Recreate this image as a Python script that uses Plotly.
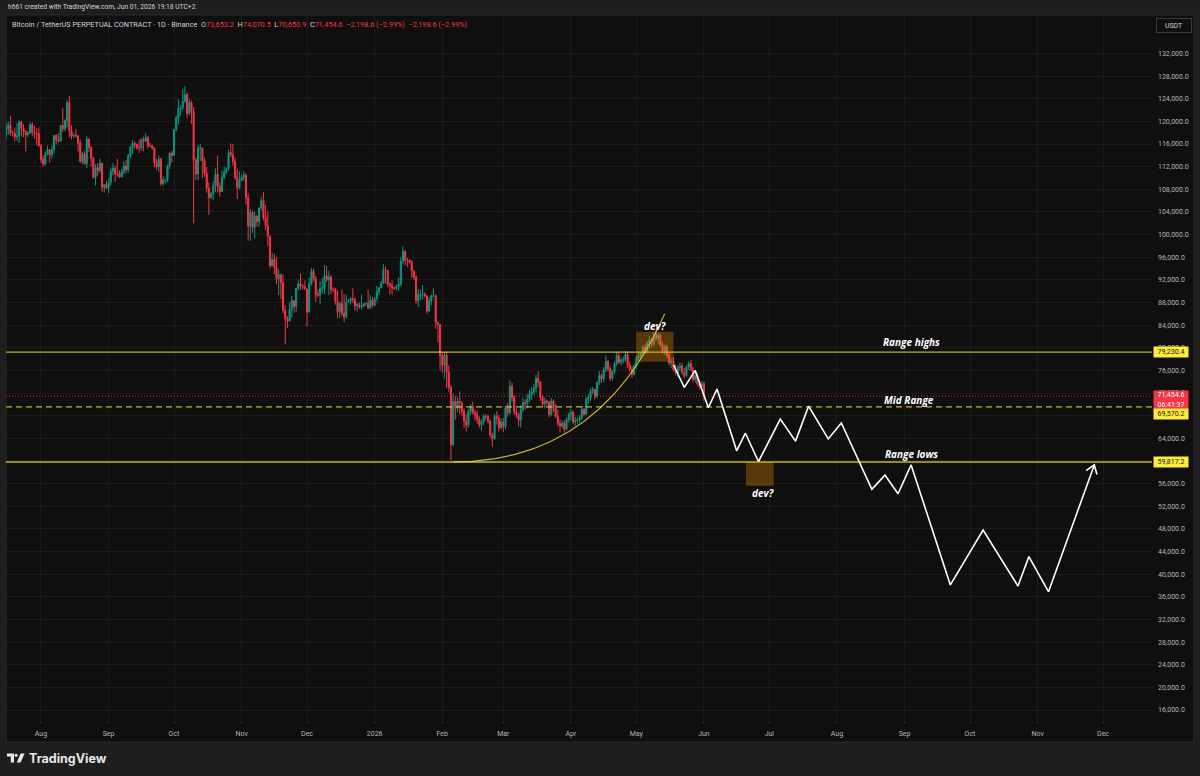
import numpy as np
import pandas as pd
import plotly.graph_objects as go

# ---------------- candle data (thousand USDT), BTCUSDT.P 1D ----------------
first_open = 117.7
closes = [
    # Jul 16-31 2025
    118.7, 119.3, 117.9, 117.9, 117.3, 117.4, 119.9, 118.7, 118.3, 117.6, 117.9, 119.4, 118.0, 117.9, 117.8, 115.7,
    # Aug
    113.3, 112.5, 114.2, 115.0, 114.1, 115.0, 117.5, 116.7, 116.5, 119.3, 118.7, 120.2, 123.3, 118.3, 117.4, 117.5,
    117.4, 116.2, 112.9, 114.3, 112.5, 116.9, 115.4, 113.5, 110.1, 111.8, 111.3, 112.6, 108.4, 108.8, 108.2,
    # Sep
    109.2, 111.2, 111.7, 110.7, 110.7, 110.2, 111.1, 112.1, 111.5, 113.9, 115.5, 116.1, 115.9, 115.3, 115.3, 116.8,
    116.5, 117.1, 115.7, 115.7, 115.3, 112.7, 112.0, 113.3, 109.0, 109.6, 109.7, 112.1, 114.4, 114.0,
    # Oct
    118.6, 120.6, 122.3, 122.4, 123.5, 124.7, 121.4, 123.3, 121.7, 113.2, 110.7, 115.2, 115.3, 113.1, 110.8, 108.2,
    106.5, 107.2, 108.7, 110.6, 108.5, 107.6, 110.1, 111.0, 111.6, 114.5, 114.1, 112.9, 110.1, 108.3, 109.6,
    # Nov
    110.1, 110.5, 106.5, 101.5, 103.9, 101.3, 103.3, 102.3, 104.7, 106.0, 103.0, 101.6, 99.7, 94.5, 95.6, 94.2,
    92.2, 92.9, 91.5, 86.6, 85.1, 84.7, 86.8, 88.3, 87.3, 90.5, 91.3, 90.9, 90.8, 90.4,
    # Dec
    86.3, 91.3, 93.5, 92.1, 89.4, 89.3, 90.4, 90.6, 92.7, 92.0, 92.5, 90.3, 90.3, 88.2, 86.4, 87.8,
    86.1, 85.5, 88.1, 88.3, 88.6, 88.5, 87.4, 87.6, 87.2, 87.3, 87.8, 87.8, 87.1, 88.4, 87.5,
    # Jan 2026
    88.7, 89.9, 90.6, 91.4, 93.8, 93.7, 91.3, 91.0, 90.6, 90.5, 90.8, 91.2, 95.3, 97.0, 95.5, 95.5,
    95.1, 93.6, 92.5, 88.3, 89.4, 89.5, 89.5, 89.2, 86.5, 88.3, 89.2, 89.2, 84.5, 84.1, 78.6,
    # Feb
    76.9, 78.7, 75.7, 73.0, 62.9, 70.5, 69.3, 70.6, 70.3, 68.8, 67.0, 66.3, 68.8, 69.6, 68.5, 68.2,
    67.4, 66.4, 66.9, 67.9, 67.8, 67.0, 64.6, 63.9, 67.9, 67.5, 65.9, 66.9,
    # Mar
    66.1, 69.4, 68.5, 73.2, 71.2, 68.6, 68.2, 67.2, 69.1, 70.3, 70.2, 70.9, 71.8, 72.2, 72.9, 74.6,
    73.9, 71.2, 70.1, 70.6, 70.4, 68.2, 70.6, 69.3, 67.9, 66.6, 66.2, 66.7, 65.6, 67.3, 68.2,
    # Apr
    68.6, 66.9, 67.1, 67.2, 67.6, 69.1, 68.3, 70.9, 71.2, 72.4, 72.6, 71.4, 73.8, 75.1, 74.5, 76.1,
    77.6, 76.3, 74.6, 75.8, 77.2, 78.6, 77.5, 77.8, 77.9, 78.8, 76.9, 76.2, 75.3, 76.8,
    # May
    78.2, 78.5, 79.0, 80.1, 79.3, 80.8, 81.4, 80.6, 82.4, 81.6, 82.2, 80.6, 79.4, 80.2, 78.6, 77.3,
    77.6, 76.2, 75.6, 76.5, 76.8, 75.6, 75.1, 76.6, 77.2, 76.1, 74.4, 75.1, 73.6, 73.1, 73.6532,
    # Jun 1
    71.4546,
]
highs = [
    119.9, 120.0, 120.9, 118.4, 118.9, 119.7, 120.2, 120.1, 119.5, 118.4, 118.3, 119.8, 119.8, 119.2, 118.8, 118.9,
    116.0, 114.0, 114.7, 115.7, 115.1, 115.7, 117.6, 117.7, 117.9, 119.3, 122.3, 120.3, 123.7, 124.5, 119.3, 117.9,
    118.6, 117.6, 116.8, 114.6, 114.8, 117.4, 117.0, 115.6, 113.7, 112.4, 112.6, 113.4, 112.7, 108.9, 109.5,
    109.9, 111.8, 112.6, 112.2, 113.4, 111.3, 111.6, 112.9, 113.2, 114.3, 115.5, 116.7, 116.4, 116.1, 116.8, 117.0,
    117.3, 117.9, 117.4, 116.2, 115.9, 115.4, 113.4, 114.0, 113.6, 110.3, 109.8, 112.4, 114.5, 114.8,
    118.6, 121.0, 123.9, 122.9, 125.7, 126.2, 125.1, 124.0, 123.7, 122.5, 113.6, 115.8, 116.0, 115.4, 113.6, 111.9,
    109.2, 107.5, 109.4, 111.7, 114.0, 109.2, 111.3, 112.0, 111.9, 115.0, 116.1, 116.0, 113.6, 111.6, 111.2,
    110.6, 111.2, 110.8, 107.3, 104.5, 104.2, 104.0, 103.4, 104.8, 106.7, 107.5, 105.3, 104.1, 99.8, 96.8, 96.6,
    96.0, 93.8, 93.1, 93.0, 87.5, 85.6, 88.0, 89.2, 88.4, 90.6, 91.9, 93.1, 91.2, 91.9,
    90.4, 92.3, 94.1, 94.0, 92.7, 90.3, 91.8, 92.3, 94.6, 94.5, 93.6, 92.8, 90.7, 90.6, 90.1, 88.1,
    90.3, 89.5, 89.3, 88.6, 89.0, 90.5, 88.9, 87.9, 88.0, 89.4, 87.9, 88.0, 90.3, 89.3, 89.0,
    88.9, 90.9, 90.7, 91.8, 94.8, 94.4, 93.7, 91.5, 91.9, 90.8, 91.2, 92.4, 96.0, 97.9, 97.2, 95.9,
    95.6, 95.5, 93.6, 92.8, 90.4, 90.3, 91.1, 89.8, 89.2, 88.9, 89.4, 90.5, 89.4, 84.6, 84.2,
    79.3, 79.2, 79.3, 76.9, 73.3, 71.9, 71.5, 71.2, 72.3, 70.5, 69.3, 68.2, 69.2, 70.1, 70.5, 69.0,
    68.9, 67.9, 67.3, 68.3, 68.3, 68.1, 67.3, 65.0, 68.3, 68.8, 68.1, 67.6,
    67.6, 69.8, 70.2, 74.3, 73.8, 71.6, 69.3, 68.6, 69.8, 71.2, 70.9, 71.8, 72.6, 73.1, 73.6, 75.2,
    75.8, 74.1, 71.6, 71.2, 70.9, 70.6, 71.1, 70.9, 70.1, 69.1, 67.4, 67.1, 67.2, 67.7, 68.6,
    69.2, 68.9, 67.8, 67.6, 68.1, 69.7, 69.4, 71.3, 71.8, 72.9, 73.1, 72.8, 74.1, 75.9, 75.4, 76.6,
    78.6, 77.9, 76.8, 76.1, 77.6, 79.3, 79.1, 78.2, 78.5, 79.4, 79.3, 77.6, 76.8, 77.2,
    78.6, 79.1, 79.3, 80.4, 80.6, 81.2, 82.1, 81.8, 82.8, 83.4, 82.7, 82.5, 81.1, 80.6, 80.5, 79.3,
    78.1, 78.4, 77.1, 76.9, 77.4, 77.3, 76.4, 76.9, 77.6, 77.8, 76.6, 75.7, 75.6, 74.4, 74.2,
    74.0705,
]
lows = [
    116.8, 117.6, 117.4, 117.3, 116.5, 116.6, 116.2, 117.3, 117.2, 114.7, 117.2, 117.8, 117.4, 116.9, 115.8, 115.5,
    112.7, 112.0, 112.2, 114.0, 112.7, 113.4, 114.3, 115.9, 116.3, 116.5, 118.1, 118.2, 118.9, 117.2, 116.8, 117.1,
    117.2, 114.7, 112.7, 112.4, 112.4, 111.7, 114.6, 112.0, 109.9, 108.7, 110.4, 110.9, 107.5, 107.4, 108.1,
    107.3, 108.6, 110.5, 109.3, 110.2, 110.0, 110.0, 110.6, 110.8, 110.9, 113.5, 114.3, 115.2, 115.0, 114.4, 114.8,
    114.7, 116.4, 115.2, 115.5, 115.0, 111.9, 111.5, 111.1, 108.6, 108.7, 109.0, 109.2, 111.6, 112.7,
    113.9, 118.2, 119.4, 121.0, 122.0, 123.3, 120.6, 121.1, 119.6, 102.0, 109.7, 109.6, 113.0, 110.0, 110.2, 107.4,
    103.5, 106.3, 106.1, 107.5, 107.4, 106.7, 107.5, 109.8, 110.7, 111.3, 113.7, 112.2, 109.7, 106.3, 108.0,
    109.4, 109.5, 105.3, 98.9, 98.9, 100.3, 99.3, 101.4, 101.3, 104.3, 102.5, 100.8, 98.0, 94.0, 94.5, 93.0,
    91.2, 89.3, 88.6, 86.1, 80.6, 83.5, 84.7, 85.3, 86.2, 86.3, 90.1, 90.2, 90.3, 90.3,
    83.8, 86.2, 91.0, 91.7, 88.1, 88.9, 87.7, 89.6, 89.5, 91.6, 89.3, 89.5, 89.8, 87.6, 85.2, 85.3,
    85.6, 84.5, 85.1, 87.9, 87.6, 87.9, 86.6, 86.4, 86.9, 86.8, 87.2, 87.4, 86.8, 86.8, 87.1,
    87.3, 88.3, 89.3, 90.5, 91.3, 91.3, 90.7, 89.4, 89.4, 90.2, 90.1, 90.0, 90.9, 94.8, 94.6, 94.3,
    94.9, 92.3, 91.9, 87.8, 87.2, 88.4, 88.5, 88.9, 86.0, 86.3, 87.5, 88.9, 83.3, 81.0, 76.0,
    75.6, 74.6, 72.9, 72.1, 60.1, 62.6, 67.3, 68.6, 68.3, 67.9, 65.8, 65.2, 65.9, 68.1, 68.2, 67.1,
    66.6, 65.9, 65.4, 66.3, 67.3, 66.6, 64.1, 62.5, 63.7, 66.4, 65.2, 65.6,
    65.1, 65.6, 67.8, 68.2, 70.4, 68.1, 67.6, 66.1, 65.9, 68.6, 69.1, 69.3, 70.4, 70.8, 71.6, 72.1,
    73.1, 70.6, 69.4, 69.3, 69.8, 67.7, 67.9, 68.6, 67.6, 66.1, 65.1, 65.8, 64.9, 65.4, 66.8,
    67.1, 66.4, 66.2, 66.6, 66.7, 67.2, 67.9, 68.1, 70.1, 70.6, 71.8, 70.9, 71.2, 73.4, 73.8, 73.9,
    75.7, 75.8, 74.1, 74.2, 75.3, 76.8, 77.1, 76.9, 77.2, 77.5, 76.4, 75.8, 74.6, 75.1,
    76.3, 77.6, 77.9, 78.6, 78.9, 79.1, 79.8, 80.1, 80.3, 81.2, 80.6, 80.1, 78.9, 78.7, 78.2, 76.9,
    76.4, 75.8, 75.1, 74.8, 75.9, 75.2, 74.6, 74.8, 76.1, 75.9, 73.9, 73.8, 73.2, 72.6, 72.9,
    70.6509,
]
assert len(closes) == len(highs) == len(lows)
dates = pd.date_range("2025-07-16", periods=len(closes), freq="D")
opens = [first_open] + closes[:-1]          # each daily bar opens at the prior close

# ---------------- levels & drawings ----------------
range_high = 79.2304
mid_range = 69.5702
range_low = 59.8172
last_price = 71.4546

proj_dates = ["2026-05-18", "2026-05-23", "2026-05-28", "2026-06-03", "2026-06-07", "2026-06-16",
              "2026-06-20", "2026-06-26", "2026-07-06", "2026-07-13", "2026-07-19", "2026-07-28",
              "2026-08-03", "2026-08-17", "2026-08-23", "2026-08-29", "2026-09-04", "2026-09-22",
              "2026-10-07", "2026-10-23", "2026-10-28", "2026-11-06", "2026-11-27"]
proj_prices = [77.0, 73.0, 76.0, 69.4, 72.7, 61.8, 64.9, 59.9, 67.4, 63.5, 69.7, 63.9,
               66.7, 55.0, 57.5, 54.2, 59.3, 38.1, 47.8, 37.9, 43.1, 36.9, 59.3]

arc_dates = ["2026-02-05 20:00", "2026-04-14", "2026-05-14"]
arc_prices = [59.8172, 59.8172, 86.0]

dev_boxes = [  # (start, end, low, high)
    ("2026-05-01", "2026-05-18", 77.54, 82.84),
    ("2026-06-20 06:00", "2026-07-03", 55.6, 59.82),
]

month_ticks = pd.date_range("2025-08-01", "2026-12-01", freq="MS")
month_labels = ["Aug", "Sep", "Oct", "Nov", "Dec", "2026", "Feb", "Mar", "Apr", "May",
                "Jun", "Jul", "Aug", "Sep", "Oct", "Nov", "Dec"]
price_ticks = list(range(16, 133, 4))

# ---------------- geometry ----------------
W, H = 1200, 776
PX_L, PX_R, PX_T, PX_B = 6, 1152, 15, 720
X0, X1 = pd.Timestamp("2025-07-15 23:00"), pd.Timestamp("2026-12-23 11:00")
Y0, Y1 = 14.233, 138.793


def xp(px):
    return (px - PX_L) / (PX_R - PX_L)


def yp(py):
    return (PX_B - py) / (PX_B - PX_T)


def to_px(t, p):
    t = pd.Timestamp(t)
    return (PX_L + (t - X0) / (X1 - X0) * (PX_R - PX_L),
            PX_B - (p - Y0) / (Y1 - Y0) * (PX_B - PX_T))


def from_px(x, y):
    return (X0 + (x - PX_L) / (PX_R - PX_L) * (X1 - X0),
            Y0 + (PX_B - y) / (PX_B - PX_T) * (Y1 - Y0))


UP, DN = "#089981", "#f23645"
YEL = "rgba(255,235,59,0.75)"
YEL_BOX = "#ffeb3b"
FONT = "Roboto"
TXT = "#b2b5be"

fig = go.Figure()
fig.add_trace(go.Candlestick(
    x=dates, open=opens, high=highs, low=lows, close=closes,
    increasing=dict(line=dict(color=UP, width=1), fillcolor=UP),
    decreasing=dict(line=dict(color=DN, width=1), fillcolor=DN),
    whiskerwidth=0, hoverinfo="skip", showlegend=False))

# arc (quadratic bezier through drawing anchors)
tt = np.linspace(0, 1, 120)
ad = [(pd.Timestamp(s) - X0) / pd.Timedelta(days=1) for s in arc_dates]
axd = (1 - tt) ** 2 * ad[0] + 2 * tt * (1 - tt) * ad[1] + tt ** 2 * ad[2]
ayd = (1 - tt) ** 2 * arc_prices[0] + 2 * tt * (1 - tt) * arc_prices[1] + tt ** 2 * arc_prices[2]
fig.add_trace(go.Scatter(x=[X0 + pd.Timedelta(days=float(v)) for v in axd], y=ayd, mode="lines",
                         line=dict(color="rgba(230,205,60,0.85)", width=1.2),
                         hoverinfo="skip", showlegend=False))

# projection path
fig.add_trace(go.Scatter(x=pd.to_datetime(proj_dates), y=proj_prices, mode="lines",
                         line=dict(color="#ffffff", width=1.6), hoverinfo="skip", showlegend=False))

# open arrow head at end of path
tx, ty = to_px(proj_dates[-1], proj_prices[-1])
bx, by = to_px(proj_dates[-2], proj_prices[-2])
vx, vy = bx - tx, by - ty
n = np.hypot(vx, vy)
vx, vy = vx / n, vy / n
arm = 10
pts = []
for ang in (np.radians(35), -np.radians(35)):
    rx = vx * np.cos(ang) - vy * np.sin(ang)
    ry = vx * np.sin(ang) + vy * np.cos(ang)
    pts.append(from_px(tx + arm * rx, ty + arm * ry))
head_x = [pts[0][0], pd.Timestamp(proj_dates[-1]), pts[1][0]]
head_y = [pts[0][1], proj_prices[-1], pts[1][1]]
fig.add_trace(go.Scatter(x=head_x, y=head_y, mode="lines", line=dict(color="#ffffff", width=1.6),
                         hoverinfo="skip", showlegend=False))

shapes = []
# chart panel
shapes.append(dict(type="rect", xref="paper", yref="paper", x0=xp(6), x1=xp(1194), y0=yp(742), y1=yp(15),
                   fillcolor="#0f0f0f", line=dict(color="#2b2b2b", width=1), layer="below"))
for lvl in (range_high, range_low):
    shapes.append(dict(type="line", xref="paper", x0=0, x1=1, yref="y", y0=lvl, y1=lvl,
                       line=dict(color=YEL, width=1.3), layer="above"))
shapes.append(dict(type="line", xref="paper", x0=0, x1=1, yref="y", y0=mid_range, y1=mid_range,
                   line=dict(color=YEL, width=1.3, dash="6px,4px"), layer="above"))
shapes.append(dict(type="line", xref="paper", x0=0, x1=1, yref="y", y0=last_price, y1=last_price,
                   line=dict(color="rgba(242,54,69,0.85)", width=1, dash="1px,2px"), layer="above"))
for d0, d1, lo, hi in dev_boxes:
    shapes.append(dict(type="rect", xref="x", yref="y", x0=d0, x1=d1, y0=lo, y1=hi,
                       fillcolor="rgba(255,152,0,0.3)", line=dict(width=0), layer="above"))


# TradingView logo
def ppath(pts_px):
    s = "M " + " L ".join(f"{xp(x):.5f},{yp(y):.5f}" for x, y in pts_px) + " Z"
    return s


shapes.append(dict(type="path", xref="paper", yref="paper",
                   path=ppath([(7, 753.5), (14, 753.5), (14, 762.5), (10.8, 762.5), (10.8, 756.6), (7, 756.6)]),
                   fillcolor="#e8e8e8", line=dict(width=0)))
shapes.append(dict(type="circle", xref="paper", yref="paper", x0=xp(14.6), x1=xp(17.6), y0=yp(756.8),
                   y1=yp(753.8), fillcolor="#e8e8e8", line=dict(width=0)))
shapes.append(dict(type="path", xref="paper", yref="paper",
                   path=ppath([(20.6, 753.5), (24.6, 753.5), (20.6, 762.5), (16.8, 762.5)]),
                   fillcolor="#e8e8e8", line=dict(width=0)))

ann = []
# header & legend
ann.append(dict(xref="paper", yref="paper", x=xp(6), y=yp(7.5), xanchor="left", yanchor="middle",
                text="h661 created with TradingView.com, Jun 01, 2026 19:18 UTC+2", showarrow=False,
                font=dict(family=FONT, size=6.7, color="#d1d4dc")))
R = "#f23645"
leg = ("Bitcoin / TetherUS PERPETUAL CONTRACT · 1D · Binance  "
       f"O<span style='color:{R}'>73,653.2</span>  H<span style='color:{R}'>74,070.5</span>  "
       f"L<span style='color:{R}'>70,650.9</span>  C<span style='color:{R}'>71,454.6</span>  "
       f"<span style='color:{R}'>−2,198.6 (−2.99%)</span>  <span style='color:{R}'>−2,198.6 (−2.99%)</span>")
ann.append(dict(xref="paper", yref="paper", x=xp(10), y=yp(24), xanchor="left", yanchor="middle",
                text=leg, showarrow=False, font=dict(family=FONT, size=7.3, color="#d1d4dc")))

# drawing labels
lab_font = dict(family="Open Sans", size=10, color="#ffffff")
for txt, d, p in [("Range highs", "2026-09-04", 81.0), ("Mid Range", "2026-09-03", 70.75),
                  ("Range lows", "2026-09-04", 61.2), ("dev?", "2026-05-09 14:00", 83.85),
                  ("dev?", "2026-06-28 02:00", 54.35)]:
    ann.append(dict(xref="x", yref="y", x=d, y=p, text=f"<b><i>{txt}</i></b>", showarrow=False,
                    xanchor="center", yanchor="middle", font=lab_font))

# price-scale labels
def pbox(text, ycen, bg, fg, h=10):
    ann.append(dict(xref="paper", yref="paper", x=xp(1153), y=yp(ycen), xanchor="left", yanchor="middle",
                    text=text, showarrow=False, bgcolor=bg, width=34, height=h, borderpad=0,
                    align="center", valign="middle", font=dict(family=FONT, size=7, color=fg)))


pbox("79,230.4", to_px(dates[0], range_high)[1], YEL_BOX, "#131722")
pbox("71,454.6<br>06:41:37", 399.7, "#f23645", "#ffffff", h=18)
pbox("69,570.2", 414.0, YEL_BOX, "#131722")
pbox("59,817.2", to_px(dates[0], range_low)[1], YEL_BOX, "#131722")
ann.append(dict(xref="paper", yref="paper", x=xp(1156), y=yp(25), xanchor="left", yanchor="middle",
                text="USDT", showarrow=False, width=34, height=13, bgcolor="#0f0f0f",
                bordercolor="#3a3a3a", borderwidth=1, borderpad=0,
                font=dict(family=FONT, size=7, color="#d1d4dc")))
# footer brand
ann.append(dict(xref="paper", yref="paper", x=xp(27), y=yp(758), xanchor="left", yanchor="middle",
                text="<b>TradingView</b>", showarrow=False,
                font=dict(family="Inter", size=12.5, color="#e8e8e8")))

fig.update_layout(
    width=W, height=H,
    margin=dict(l=PX_L, r=W - PX_R, t=PX_T, b=H - PX_B),
    paper_bgcolor="#1e1e1e", plot_bgcolor="#0f0f0f",
    showlegend=False, hovermode=False,
    shapes=shapes, annotations=ann,
    xaxis=dict(type="date", range=[X0, X1], rangeslider=dict(visible=False),
               tickvals=month_ticks, ticktext=month_labels, showgrid=True, gridcolor="#1b1b1b",
               gridwidth=1, zeroline=False, showline=False, ticks="outside", ticklen=3,
               tickcolor="#2a2a2a", ticklabelstandoff=4,
               tickfont=dict(family=FONT, size=7, color=TXT), fixedrange=True),
    yaxis=dict(range=[Y0, Y1], side="right", tickvals=price_ticks,
               ticktext=[f"{v * 1000:,.1f}" for v in price_ticks], showgrid=True, gridcolor="#1b1b1b",
               zeroline=False, showline=False, ticks="", ticklabelstandoff=5,
               tickfont=dict(family=FONT, size=7, color=TXT), fixedrange=True),
)

fig.write_html("out.html")
